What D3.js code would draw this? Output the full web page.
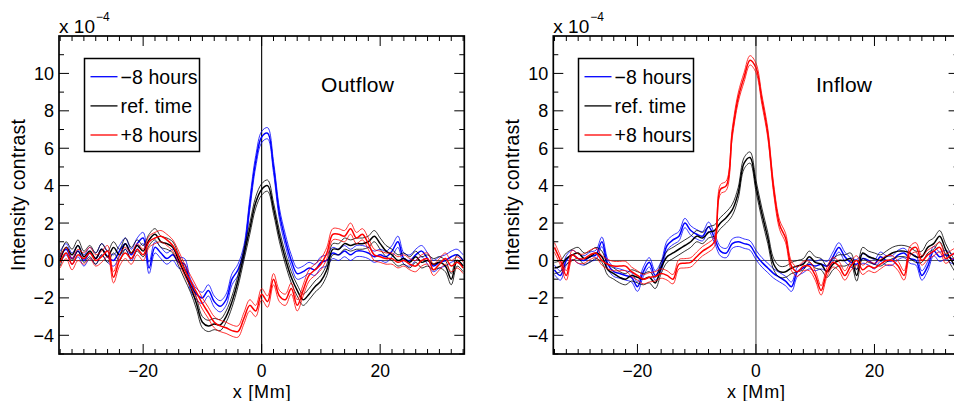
<!DOCTYPE html>
<html>
<head>
<meta charset="utf-8">
<script src="https://cdn.jsdelivr.net/npm/d3@7"></script>
<style>
  html, body { margin: 0; padding: 0; background: #fff; }
  svg { display: block; font-family: "Liberation Sans", Arial, Helvetica, sans-serif; }
</style>
</head>
<body>
<svg id="chart" width="954" height="401"></svg>
<script>
// ---------- DATA (intensity contrast in units of 1e-4, x in Mm) ----------
const xMm = [-34,-33,-32,-31,-30,-29,-28,-27,-26,-25,-24,-23,-22,-21,-20,-19,-18,-17,-16,-15,-14,-13,-12,-11,-10,-9,-8,-7,-6,-5,-4,-3,-2,-1,0,1,2,3,4,5,6,7,8,9,10,11,12,13,14,15,16,17,18,19,20,21,22,23,24,25,26,27,28,29,30,31,32,33,34];

const seriesNames = ["\u22128 hours", "ref. time", "+8 hours"];
const seriesColors = ["#0000ff", "#000000", "#ff0000"];

// Outflow panel
const outflowMinus8 = [0.2,0.6,0.1,0.5,0.0,0.4,0.1,0.6,0.2,0.0,0.5,0.9,0.3,0.9,1.2,-0.4,0.7,0.4,0.1,0.3,-0.1,-0.2,-1.3,-1.8,-2.0,-1.6,-2.2,-2.45,-2.1,-1.0,-0.5,0.5,3.0,5.3,6.6,6.8,5.0,2.5,1.1,0.0,-0.7,-0.6,-0.4,-0.5,-0.1,0.0,0.4,0.3,0.5,0.3,0.5,0.5,0.4,0.2,0.3,0.2,0.5,1.0,0.1,0.0,0.3,0.5,0.1,-0.3,-0.1,0.0,0.2,0.3,0.0];
const outflowRef    = [0.0,0.7,0.3,0.8,0.2,0.5,0.1,0.6,0.2,0.7,0.3,0.9,0.4,0.8,0.5,1.1,1.4,1.0,0.9,0.7,0.0,-0.7,-1.4,-2.3,-3.3,-3.5,-3.4,-3.45,-3.0,-2.2,-1.1,0.3,1.7,3.1,3.8,4.0,2.8,1.3,0.1,-0.9,-1.6,-2.1,-1.8,-1.4,-1.1,-0.5,0.6,0.6,0.9,0.8,0.9,0.9,1.0,1.3,0.9,0.5,0.3,0.0,0.1,-0.1,0.2,-0.1,0.0,-0.2,-0.1,-0.3,-1.0,0.0,-0.3];
const outflowPlus8  = [-0.1,0.4,-0.2,0.3,0.1,0.4,0.0,0.2,0.5,-0.9,0.0,0.4,0.1,0.6,0.3,1.0,1.2,1.3,1.1,0.8,0.2,-0.5,-1.1,-1.7,-2.3,-2.8,-3.3,-3.5,-3.6,-3.75,-3.8,-3.1,-2.4,-2.7,-1.8,-2.2,-1.0,-1.9,-2.1,-1.5,-2.4,-1.6,-0.8,-0.5,-0.2,0.4,1.4,1.4,1.3,1.7,1.2,1.4,0.9,0.3,0.2,0.1,0.1,-0.1,0.0,-0.2,-0.3,0.0,0.1,-0.5,-0.2,0.1,-0.3,-0.1,-0.4];
const outflowErr = [0.3, 0.3, 0.3];

// Inflow panel
const inflowMinus8 = [-0.5,-0.8,0.0,0.3,0.1,0.0,0.2,0.3,1.0,-0.2,-0.6,-0.7,-0.8,-0.9,-1.4,-0.6,-0.1,-0.8,-0.3,0.8,1.1,1.3,2.0,1.6,1.4,1.3,1.8,1.2,0.5,0.4,0.9,1.0,0.9,0.8,0.3,-0.1,-0.4,-0.7,-0.9,-1.1,-1.4,-0.6,-0.4,-0.2,-0.3,-0.2,-0.3,0.2,0.7,0.2,-0.1,-0.2,0.1,0.0,-0.2,0.2,0.0,0.0,0.3,0.4,0.1,0.0,-0.8,-0.3,0.5,0.2,0.3,0.1,0.0];
const inflowRef    = [-0.4,-0.3,0.1,0.3,0.4,0.1,0.2,0.4,0.2,-0.5,-0.7,-0.9,-1.0,-0.8,-0.9,-1.0,-0.9,-1.2,-0.4,0.2,0.4,0.6,0.8,1.0,1.3,1.2,1.5,1.6,2.0,2.3,2.7,3.6,5.2,5.5,4.0,2.5,1.2,-0.2,-0.6,-0.6,-0.4,-0.3,-0.2,0.2,-0.1,-0.2,-0.6,-0.2,0.0,0.0,0.1,-0.8,0.4,0.2,0.1,0.0,0.2,0.4,0.5,0.5,0.4,0.2,0.2,0.7,0.9,1.3,0.6,0.0,-0.5];
const inflowPlus8  = [0.7,0.0,-0.8,0.3,0.1,0.1,0.3,0.4,0.0,-0.2,-0.3,-0.3,-0.3,-0.6,-0.8,-1.0,-0.9,-0.85,-0.7,-0.8,-1.0,-0.2,-0.15,-0.1,0.2,0.5,0.7,1.0,3.8,4.0,6.8,8.7,9.8,10.7,10.3,8.6,6.8,3.8,1.9,1.2,-0.3,-0.6,-0.3,-0.3,-0.8,-1.6,-0.6,-0.1,-0.3,-0.8,-0.3,0.0,-0.5,-0.3,-0.4,-0.2,0.0,0.0,-0.3,-0.8,0.5,0.7,0.0,0.3,0.5,0.7,0.1,0.3,0.5];
const inflowErr = [0.25, 0.3, 0.25];

const xTickMajor = [-40, -20, 0, 20, 40];
const yTickMajor = [-4, -2, 0, 2, 4, 6, 8, 10];
const xLabel = "x [Mm]";
const yLabel = "Intensity contrast";
const panelTitles = ["Outflow", "Inflow"];

// ---------- DRAWING ----------
const svg = d3.select("#chart");
const plotTop = 36, plotBottom = 354;
const panels = [
  { left: 59, right: 464.3, title: panelTitles[0], titleLen: 73, series: [outflowMinus8, outflowRef, outflowPlus8], err: outflowErr, vColor: "#000", titleX: 357.5, legendX: 84.5 },
  { left: 553.3, right: 958.6, title: panelTitles[1], titleLen: 56, series: [inflowMinus8, inflowRef, inflowPlus8], err: inflowErr, vColor: "#555", titleX: 844, legendX: 578.5 }
];
const legendLens = [77, 71.5, 77];

panels.forEach((p, pi) => {
  const x = d3.scaleLinear().domain([-34.2, 34.2]).range([p.left, p.right]);
  const y = d3.scaleLinear().domain([-5, 12]).range([plotBottom, plotTop]);
  const g = svg.append("g");

  const clipId = "clip" + pi;
  svg.append("clipPath").attr("id", clipId)
    .append("rect").attr("x", p.left).attr("y", plotTop)
    .attr("width", p.right - p.left).attr("height", plotBottom - plotTop);

  const plot = g.append("g").attr("clip-path", `url(#${clipId})`);

  // zero lines
  plot.append("line").attr("x1", p.left).attr("x2", p.right)
    .attr("y1", y(0)).attr("y2", y(0)).attr("stroke", "#555").attr("stroke-width", 1);
  plot.append("line").attr("x1", x(0)).attr("x2", x(0))
    .attr("y1", plotTop).attr("y2", plotBottom).attr("stroke", p.vColor).attr("stroke-width", 1.1);

  const line = d3.line().curve(d3.curveCatmullRom.alpha(0.5));
  p.series.forEach((vals, si) => {
    const e = p.err[si];
    const mid = vals.map((v, i) => [x(xMm[i]), y(v)]);
    const up = vals.map((v, i) => [x(xMm[i]), y(v + e)]);
    const lo = vals.map((v, i) => [x(xMm[i]), y(v - e)]);
    [up, lo].forEach(pts => {
      plot.append("path").attr("d", line(pts)).attr("fill", "none")
        .attr("stroke", seriesColors[si]).attr("stroke-width", 0.8);
    });
    plot.append("path").attr("d", line(mid)).attr("fill", "none")
      .attr("stroke", seriesColors[si]).attr("stroke-width", 1.5);
  });

  // ticks (inward, all four sides)
  const xMinor = d3.range(-34, 35, 2).filter(v => v % 20 !== 0);
  const yMinor = d3.range(-5, 13, 1).filter(v => v % 2 !== 0);
  const tickG = g.append("g").attr("stroke", "#000").attr("stroke-width", 1);
  const xMajIn = xTickMajor.filter(v => v > -34.2 && v < 34.2);
  xMajIn.forEach(v => {
    tickG.append("line").attr("x1", x(v)).attr("x2", x(v)).attr("y1", plotBottom).attr("y2", plotBottom - 10);
    tickG.append("line").attr("x1", x(v)).attr("x2", x(v)).attr("y1", plotTop).attr("y2", plotTop + 10);
  });
  xMinor.forEach(v => {
    tickG.append("line").attr("x1", x(v)).attr("x2", x(v)).attr("y1", plotBottom).attr("y2", plotBottom - 5);
    tickG.append("line").attr("x1", x(v)).attr("x2", x(v)).attr("y1", plotTop).attr("y2", plotTop + 5);
  });
  yTickMajor.forEach(v => {
    tickG.append("line").attr("x1", p.left).attr("x2", p.left + 10).attr("y1", y(v)).attr("y2", y(v));
    tickG.append("line").attr("x1", p.right).attr("x2", p.right - 10).attr("y1", y(v)).attr("y2", y(v));
  });
  yMinor.forEach(v => {
    tickG.append("line").attr("x1", p.left).attr("x2", p.left + 5).attr("y1", y(v)).attr("y2", y(v));
    tickG.append("line").attr("x1", p.right).attr("x2", p.right - 5).attr("y1", y(v)).attr("y2", y(v));
  });

  // frame
  g.append("rect").attr("x", p.left).attr("y", plotTop)
    .attr("width", p.right - p.left).attr("height", plotBottom - plotTop)
    .attr("fill", "none").attr("stroke", "#000").attr("stroke-width", 1.7);

  // tick labels
  const fmt = v => (v < 0 ? "\u2212" + Math.abs(v) : String(v));
  xMajIn.forEach(v => {
    g.append("text").attr("x", x(v)).attr("y", 376.5).attr("text-anchor", "middle")
      .attr("font-size", 17.5).attr("fill", "#000").text(fmt(v));
  });
  yTickMajor.forEach(v => {
    g.append("text").attr("x", p.left - 5).attr("y", y(v) + 6.5).attr("text-anchor", "end")
      .attr("font-size", 18).attr("fill", "#000").text(fmt(v));
  });

  // axis titles
  g.append("text").attr("x", (p.left + p.right) / 2 - 29).attr("y", 398)
    .attr("font-size", 18).attr("fill", "#000")
    .attr("textLength", 58).attr("lengthAdjust", "spacing").text(xLabel);
  g.append("text").attr("transform", `translate(${p.left - 34},${195 + 76}) rotate(-90)`)
    .attr("font-size", 19.5).attr("fill", "#000")
    .attr("textLength", 152).attr("lengthAdjust", "spacing").text(yLabel);

  // exponent label
  const ex = g.append("text").attr("x", p.left).attr("y", 32.5).attr("font-size", 19).attr("fill", "#000");
  ex.append("tspan").attr("textLength", 36).attr("lengthAdjust", "spacing").text("x 10");
  ex.append("tspan").attr("font-size", 12).attr("dx", 1).attr("dy", -12).text("\u22124");

  // panel title
  g.append("text").attr("x", p.titleX - p.titleLen / 2).attr("y", 92)
    .attr("font-size", 21).attr("fill", "#000")
    .attr("textLength", p.titleLen).attr("lengthAdjust", "spacing").text(p.title);

  // legend
  const lg = g.append("g");
  lg.append("rect").attr("x", p.legendX).attr("y", 58.5).attr("width", 115).attr("height", 93)
    .attr("fill", "#fff").attr("stroke", "#000").attr("stroke-width", 1.5);
  const rows = [76.7, 105.9, 135];
  seriesNames.forEach((name, si) => {
    lg.append("line").attr("x1", p.legendX + 6).attr("x2", p.legendX + 33)
      .attr("y1", rows[si]).attr("y2", rows[si])
      .attr("stroke", seriesColors[si]).attr("stroke-width", 1.3);
    lg.append("text").attr("x", p.legendX + 36).attr("y", rows[si] + 6.8)
      .attr("font-size", 19.5).attr("fill", "#000")
      .attr("textLength", legendLens[si]).attr("lengthAdjust", "spacing").text(name);
  });
});
</script>
</body>
</html>
